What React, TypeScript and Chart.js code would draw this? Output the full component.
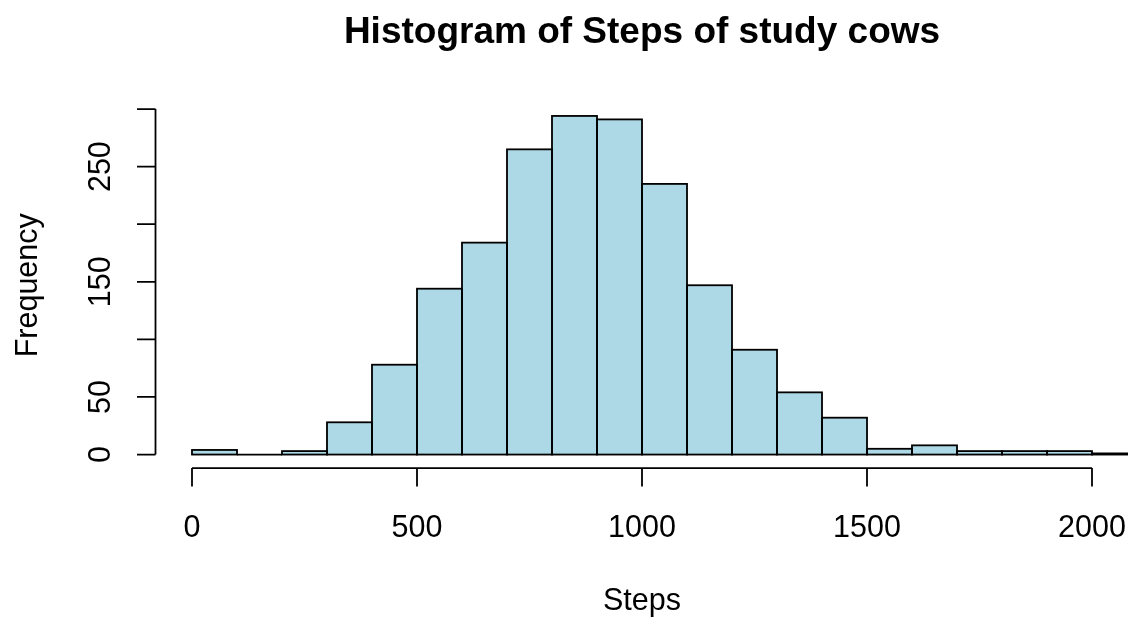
import React, { useEffect, useRef } from "react";
import { Chart, registerables } from "chart.js";

Chart.register(...registerables);

// Histogram bins (left edges) and their frequencies
const binStarts = [0, 100, 200, 300, 400, 500, 600, 700, 800, 900, 1000, 1100, 1200, 1300, 1400, 1500, 1600, 1700, 1800, 1900, 2000];
const binWidth = 100;
const counts = [4, 0, 3, 28, 78, 144, 184, 265, 294, 291, 235, 147, 91, 54, 32, 5, 8, 3, 3, 3, 1];

const xTicks = [0, 500, 1000, 1500, 2000];
const yTicks = [0, 50, 100, 150, 200, 250, 300];
// labels that fit without overlapping along the vertical axis
const yTickLabels = [0, 50, 150, 250];

const chartTitle = "Histogram of Steps of study cows";
const xTitle = "Steps";
const yTitle = "Frequency";

const FONT = '"Liberation Sans", Arial, sans-serif';
const FILL = "#ADD8E6";
const INK = "#000000";

// base-R style plot region: data range padded by 4% on each side
const xMin = 0;
const xMax = 2000;
const yMax = Math.max(...counts);
const xPad = (xMax - xMin) * 0.04;
const yPad = yMax * 0.04;

export default function App() {
  const canvasRef = useRef<HTMLCanvasElement | null>(null);

  useEffect(() => {
    const canvas = canvasRef.current;
    if (!canvas) return;

    // outlines every bar the way rect() does: a stroke centred on the edges
    const barOutline = {
      id: "barOutline",
      afterDatasetsDraw(chart: any) {
        const ctx = chart.ctx;
        const area = chart.chartArea;
        const meta = chart.getDatasetMeta(0);
        ctx.save();
        ctx.beginPath();
        ctx.rect(area.left, area.top, area.right - area.left, area.bottom - area.top);
        ctx.clip();
        ctx.strokeStyle = INK;
        ctx.lineWidth = 1.8;
        meta.data.forEach((el: any) => {
          const p = el.getProps(["x", "y", "base", "width"], true);
          ctx.strokeRect(p.x - p.width / 2, p.y, p.width, p.base - p.y);
        });
        ctx.restore();
      },
    };

    // axes, tick labels and titles placed from the chart's scales
    const rAxes = {
      id: "rAxes",
      afterDraw(chart: any) {
        const ctx = chart.ctx;
        const area = chart.chartArea;
        const xs = chart.scales.x;
        const ys = chart.scales.y;
        const tickLen = 18.5;
        ctx.save();
        ctx.strokeStyle = INK;
        ctx.fillStyle = INK;
        ctx.lineWidth = 1.8;
        ctx.lineCap = "butt";

        // x axis
        const xAxisY = area.bottom;
        ctx.beginPath();
        ctx.moveTo(xs.getPixelForValue(xTicks[0]), xAxisY);
        ctx.lineTo(xs.getPixelForValue(xTicks[xTicks.length - 1]), xAxisY);
        xTicks.forEach((v) => {
          const px = xs.getPixelForValue(v);
          ctx.moveTo(px, xAxisY);
          ctx.lineTo(px, xAxisY + tickLen);
        });
        ctx.stroke();

        // y axis
        const yAxisX = area.left - 0.5;
        ctx.beginPath();
        ctx.moveTo(yAxisX, ys.getPixelForValue(yTicks[0]));
        ctx.lineTo(yAxisX, ys.getPixelForValue(yTicks[yTicks.length - 1]));
        yTicks.forEach((v) => {
          const py = ys.getPixelForValue(v);
          ctx.moveTo(yAxisX, py);
          ctx.lineTo(yAxisX - tickLen, py);
        });
        ctx.stroke();

        // tick labels
        ctx.font = `30.5px ${FONT}`;
        ctx.textAlign = "center";
        ctx.textBaseline = "alphabetic";
        xTicks.forEach((v) => {
          ctx.fillText(String(v), xs.getPixelForValue(v), 537);
        });
        yTickLabels.forEach((v) => {
          ctx.save();
          ctx.translate(110, ys.getPixelForValue(v));
          ctx.rotate(-Math.PI / 2);
          ctx.fillText(String(v), 0, 0);
          ctx.restore();
        });

        // axis titles
        const cx = (area.left + area.right) / 2;
        const cy = (area.top + area.bottom) / 2;
        ctx.fillText(xTitle, cx, 610);
        ctx.save();
        ctx.translate(37, cy);
        ctx.rotate(-Math.PI / 2);
        ctx.fillText(yTitle, 0, 0);
        ctx.restore();

        // main title
        ctx.font = `bold 37px ${FONT}`;
        ctx.fillText(chartTitle, cx, 43);
        ctx.restore();
      },
    };

    const chart = new Chart(canvas, {
      type: "bar",
      data: {
        datasets: [
          {
            label: yTitle,
            data: binStarts.map((s, i) => ({ x: s + binWidth / 2, y: counts[i] })),
            backgroundColor: FILL,
            borderWidth: 0,
            barPercentage: 1,
            categoryPercentage: 1,
          },
        ],
      },
      options: {
        responsive: false,
        animation: false,
        devicePixelRatio: 1,
        layout: {
          padding: { left: 156, right: 6, top: 102.4, bottom: 155.9 },
        },
        scales: {
          x: {
            type: "linear",
            offset: false,
            grid: { offset: false },
            min: xMin - xPad,
            max: xMax + xPad,
            display: false,
            // bar widths follow the bin spacing, so keep the ticks on bin edges only
            afterBuildTicks: (scale: any) => {
              scale.ticks = xTicks.map((v) => ({ value: v }));
            },
          },
          y: {
            type: "linear",
            min: -yPad,
            max: yMax + yPad,
            display: false,
            afterBuildTicks: (scale: any) => {
              scale.ticks = yTicks.map((v) => ({ value: v }));
            },
          },
        },
        plugins: {
          legend: { display: false },
          title: { display: false },
          tooltip: { enabled: false },
        },
      },
      plugins: [barOutline, rAxes],
    });

    return () => chart.destroy();
  }, []);

  return (
    <canvas
      ref={canvasRef}
      width={1134}
      height={624}
      style={{ position: "fixed", left: 0, top: 0, width: 1134, height: 624, background: "#fff" }}
    />
  );
}
